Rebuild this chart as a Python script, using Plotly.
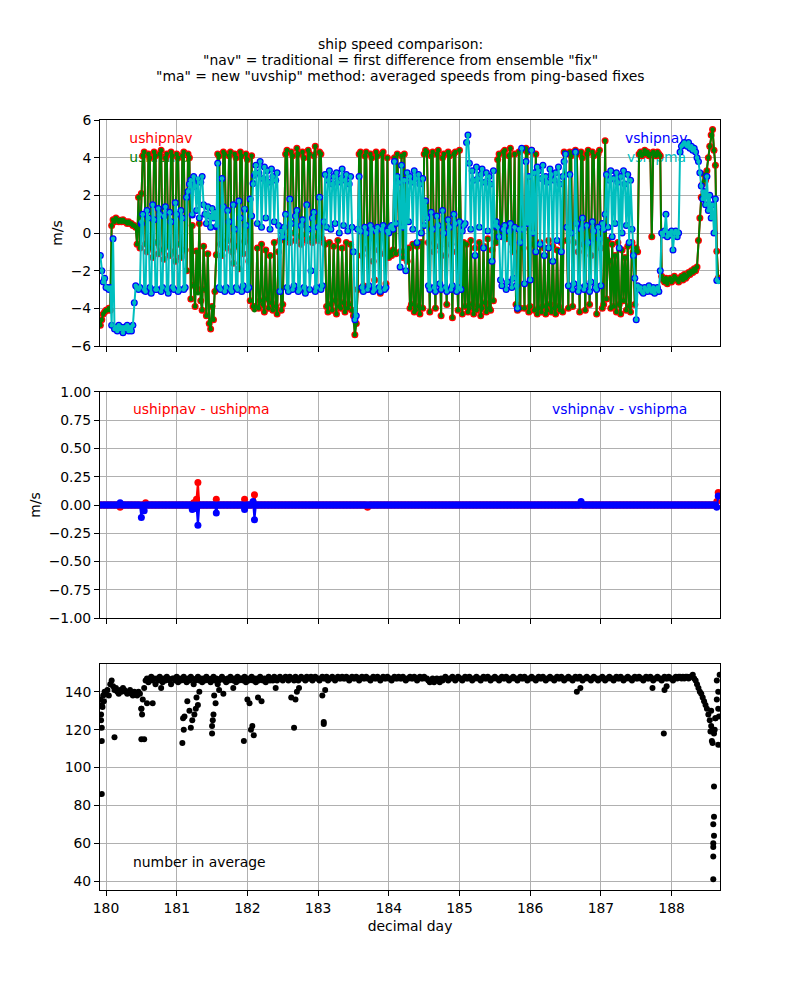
import numpy as np
import plotly.graph_objects as go
from plotly.subplots import make_subplots

# ---------------- data ----------------
day_start = 179.92      # first ensemble (decimal day)
day_step = 0.02         # ensemble spacing (days)

# ushipma (m/s), one value per ensemble
ushipma = [
    -4.9, -4.6, -4.3, -4.2, -4.1, -4.1, -4.0, -4.1,
    0.4, 0.7, 0.6, 0.8, 0.7, 0.6, 0.7, 0.6, 0.7, 0.6, 0.6, 0.5, 0.6, 0.5, 0.5, 0.4, 0.4,
    0.3, -0.6, 1.9, -0.8, 2.1,
    4.1, 4.3, -0.6, -1.0, 4.2, 4.0, -0.8, -1.3, 4.3, 4.1, -0.5, -1.1, 4.2, 4.4, -0.9, -1.4, 4.0,
    4.2, -0.7, -1.2, 4.3, 4.1, -1.0, -1.5, 4.2, 4.0, -0.6, -1.3, 4.1, 4.3, -0.9, -2.0, 4.2, 4.0,
    -3.5, 0.4, -2.8, -3.9, -1.0, -3.2, 0.5, -3.6, -4.1, -0.7, -3.0, -4.4, -1.1, -4.8, -5.1, -3.9, -4.6, -3.1, -1.2,
    4.2, 4.1, -0.6, -1.2, 4.3, 4.2, -0.8, -0.4, 4.1, 4.3, -1.0, -1.6, 4.2, 4.0, -0.7, -1.9, 4.3, 4.1,
    -1.1, -0.5, 4.2, 3.9, -1.5, -3.6, 4.1, -3.9, -4.1,
    -3.9, -0.8, -4.0, -3.6, -0.6, -3.8, -4.2, -0.9, -3.5, -4.0, -1.2, -3.7, -4.1, -0.5, -3.9, -4.3, -1.0, -0.4,
    -4.1, -3.8, -0.2, 4.2, 4.4, -0.3, -0.5, 4.3, 4.1, 0.0, -0.4, 4.5, 4.2, -0.2, -0.6, 4.3, 4.0,
    -0.1, -0.4, 4.4, 4.2, -0.3, -0.5, 4.1, 4.6, -0.2, -0.4, 4.3, 4.2, -0.3, -0.5,
    -0.6, -3.9, -4.2, -0.5, -3.8, -4.1, -0.7, -3.6, -4.3, -0.4, -3.9, -4.0, -0.8, -3.7, -4.2, -0.5,
    -4.0, -3.8, -0.6, -4.1, -4.4, -5.4, -4.8,
    -3.0, 4.2, 4.3, -1.2, -2.8, 4.1, 4.3, -0.8, -3.0, 4.2, 4.0, -1.5, -2.5, 4.3, 4.1, -0.9, -3.2,
    4.2, 4.3, -1.1, -2.7, 4.0, -1.3,
    -1.0, -1.2, -0.9, 4.0, -1.1, 4.2, 2.1, -1.0, 4.1, -1.3, 4.2, -1.0, -1.5, -0.8, -4.0, -3.8, -0.6,
    -4.2, -4.1, -0.7, -3.9, -4.3, -0.5, -4.0, 4.2, 4.4,
    4.3, -0.5, -4.2, 4.1, 4.3, -1.0, -4.0, 4.2, 4.4, -0.7, -4.4, 4.0, 4.2, -1.2, -3.8, 4.3, 4.1,
    -0.6, -4.5, 4.2, 4.3, -1.0, -4.1, 4.4, -0.8, -4.3, -0.5,
    -3.9, -0.6, -4.2, -4.0, -0.4, -3.8, -4.3, -0.8, -4.1, -3.9, -0.5, -4.4, -4.0, -0.7, -3.7, -4.2,
    -0.3, -4.0, -4.1, -0.9, -3.6, 0.3, -0.5,
    3.9, 4.2, 0.1, -0.2, 4.3, 4.4, -0.3, 0.2, 4.1, 4.5, -0.5, -1.0, 4.2, -3.8, -4.1, 4.3, -4.0,
    4.4, -0.8, -4.0, 4.5, 4.3, -4.2, -3.9, 4.4, -0.6, -4.1, 4.2, -4.3,
    -4.0, -0.5, -4.2, -3.9, -0.8, -4.3, -4.1, -0.4, -3.8, -4.2, -0.7, -4.0, -4.3, -0.9, -3.9, -4.1, -0.5, -4.2, 4.3,
    4.2, -0.4, -4.0, 4.3, 4.1, -3.9, -0.5, 4.4, 4.2, -1.0, -4.2, 4.3, 4.0, -0.6, -4.1, 4.2, 4.4,
    -3.8, -1.2, 4.3, 4.1, -0.3, -4.3, 4.2, 4.4, -0.8, -4.0,
    -3.8, 4.9, -3.5, -0.4, -1.5, -4.0, -0.6, -3.9, -1.2, -4.2, -0.5, -3.8, -4.3, -0.9, -3.6, -1.3,
    -4.1, -0.7, -3.9, -4.2, -0.5, -1.0, -3.8, -0.8,
    -1.0, 4.2, 4.3, 4.1, 4.2, 4.4, 4.2, 4.3, 4.1, 4.2, -0.2, 4.3, 4.2, 4.1, 4.3, 4.2, 4.1,
    -2.3, -2.5, -2.6, -2.4, -2.7, -2.5, -2.4, -2.6, -2.5, -2.3, -2.4, -2.5, -2.6, -2.4, -2.3, -2.5,
    -2.2, -2.4, -2.3, -2.1, -2.2, -2.0, -2.1, -1.9, -2.0,
    -1.8, -0.4, 0.8, 1.9, 2.6, 3.1, 2.8, 3.3, 4.0, 4.6, 5.2, 5.5, 4.4, 3.6, -1.0, -2.5,
]

# vshipma (m/s), one value per ensemble
vshipma = [
    -1.2, -2.0, -2.6, -2.4, -2.9, -2.9, -3.0, -2.9,
    -4.9, -0.3, -5.1, -5.0, -5.2, -4.9, -5.1, -5.0, -5.3, -5.0, -5.1, -4.9, -5.2, -5.0, -5.2, -4.9, -3.7,
    -2.8, -2.9, -3.0, -2.9, 0.6,
    1.0, -3.0, -3.1, 1.2, 0.8, -2.9, -3.2, 1.5, 0.7, -3.0, -3.0, 1.3, 1.0, -3.1, -2.9, 0.9, 1.4,
    -3.0, -3.2, 1.1, 0.6, -2.9, -3.0, 1.6, 1.0, -3.1, -3.0, 1.2, 0.8, -3.0, -2.9, 1.9, 2.2, 2.6,
    2.8, 1.0, 3.0, 2.5, 1.2, 2.9, 0.8, 2.7, 3.0, 1.5, 1.0, 0.5, 1.4, 0.9, 0.3, 1.3, 0.8, 1.1, 0.4,
    3.7, -2.9, -3.0, 2.9, 1.4, -3.1, -2.9, 1.2, 0.6, -3.0, -3.1, 1.5, 0.2, -2.9, -3.0, 1.7, 0.8,
    -3.1, -2.8, 1.3, 0.4, -3.0, -2.9, 1.8, 0.9, 2.6, 3.2,
    3.6, 0.5, 3.2, 3.8, 0.3, 2.9, 3.5, 0.8, 3.3, 2.7, 0.2, 3.4, 3.0, 0.6, 2.8, 3.2, 0.4, -3.1,
    0.1, -0.2, 0.3, 1.0, -2.9, -3.1, 1.8, 0.5, -3.0, -2.8, 0.9, 1.2, -3.1, -3.0, 0.4, 0.7, -2.9,
    -3.2, 1.5, 0.2, -3.0, -2.0, 0.8, 1.1, -3.1, -2.9, 0.3, 1.9, -3.0, -2.8, 0.6,
    3.1, 0.3, 2.8, 3.3, 0.2, 2.6, 3.0, 0.5, 3.2, 2.7, 0.0, 2.9, 3.4, 0.4, 2.8, 3.1, 0.1, 2.6,
    3.0, 0.3, -1.0, -4.6, -4.4,
    0.2, 3.0, 0.1, -2.9, -3.1, 0.3, 0.0, -3.0, -2.8, 0.4, 0.2, -3.1, -3.0, 0.1, 0.3, -2.9, -3.1,
    0.2, 0.4, -3.0, -2.9, 0.1, 0.0,
    0.3, 0.4, 0.2, 3.8, 0.5, 3.0, 2.7, -1.8, 3.6, 0.3, 2.8, -2.0, 3.2, 0.6, 3.0, 2.7, 0.2, 3.3,
    2.9, -0.5, 3.1, 2.6, 0.0, 2.9, 0.4, 1.7,
    0.8, -2.8, -3.0, 1.1, 0.2, -2.9, -3.1, 0.9, 0.4, -2.7, -3.0, 1.2, 0.0, -2.9, -3.1, 0.7, 0.3,
    -3.0, -2.8, 1.0, 0.5, -3.1, -2.9, 0.6, -3.0, 0.1, 0.4,
    0.5, 4.8, 5.2, 3.7, 0.2, 3.3, 2.8, -1.2, 3.5, 2.9, 0.3, 3.1, 3.4, -0.8, 2.7, 3.2, 0.1, 3.0,
    2.6, -1.5, 3.3, 0.4, 0.6,
    0.3, -0.2, -2.5, -2.8, 0.2, 0.4, -3.0, -2.6, 0.1, 0.5, -2.9, -2.4, 0.3, -2.8, -4.0, 0.2, -0.5,
    4.5, 0.2, -2.7, 3.8, 0.5, 3.0, -2.5, 4.4, 0.0, 3.2, -1.0, 3.5,
    3.3, -0.6, 2.9, 3.6, -1.2, 3.0, 2.7, -0.8, 3.4, 3.1, -1.5, 2.8, 3.2, -0.4, 3.5, 2.6, -1.0, 3.0, 3.8,
    4.2, 0.3, -2.8, 3.1, 0.0, -3.0, -2.7, 4.3, 0.5, -3.1, -2.9, 0.2, 0.8, -3.0, -2.8, 0.4, -0.5,
    -3.1, -2.6, 0.6, 0.1, -2.9, -3.0, 0.3, -0.3, -2.8, 0.5,
    0.2, 1.0, 3.1, 0.3, 2.8, 3.3, -0.2, 2.9, 0.5, 3.2, 2.7, -0.8, 3.0, 0.0, 3.3, 2.6, 0.4, 3.1,
    -0.5, 2.8, 0.2, -1.2, -2.4, -4.6,
    -2.8, -3.0, -2.9, -3.1, -3.2, -2.9, -3.0, -3.1, -2.8, -3.0, -3.1, -2.9, -3.2, -3.0, -2.9, -3.1, -2.0,
    0.0, -0.1, 0.1, 1.0, -0.2, 0.0, -0.1, 0.1, -0.9, 0.0, 0.1, -0.2, 0.0, 4.3, 4.6, 4.7, 4.8,
    4.7, 4.6, 4.8, 4.5, 4.6, 4.4, 4.5, 4.3,
    4.0, 3.8, 3.2, 2.5, 1.8, 2.2, 1.5, 3.0, 1.2, 2.0, 0.8, 1.5, 0.0, 1.8, -2.5, -2.6,
]

# nav - ma differences (nonzero spikes only; zero elsewhere)
udiff_day = [180.20, 180.56, 181.24, 181.28, 181.30, 181.56, 181.96, 182.10, 183.70, 188.64, 188.66]
udiff_val = [-0.02, 0.02, 0.02, 0.05, 0.20, 0.05, 0.05, 0.09, -0.02, 0.03, 0.11]
vdiff_day = [180.20, 180.50, 180.54, 181.22, 181.26, 181.30, 181.56, 181.96, 182.08, 182.10, 186.72, 188.64, 188.66]
vdiff_val = [0.02, -0.11, -0.05, -0.04, -0.03, -0.18, -0.07, -0.04, 0.03, -0.13, 0.03, -0.02, 0.08]

# number of pings in each average, one value per ensemble
n_average = [
    136, 133, 138, 140, 139, 141, 138, 144, 146, 143,
    141, 142, 140, 139, 141, 140, 142, 141, 140, 139,
    140, 141, 139, 138, 140, 139, 138, 140, 139, 131,
    136, 142,
    146, 147, 145, 147, 148, 146, 147, 144, 147, 146, 148, 147, 145, 147, 146, 148, 147, 146, 144, 147,
    147, 146, 148, 145, 147, 146, 147, 148, 146, 145, 147, 146, 148, 147, 144, 146, 147, 148, 146, 147,
    145, 147, 146, 148, 147, 146, 145, 147, 148, 146, 147, 144, 146, 147, 148, 147, 146, 145, 147, 146,
    148, 147, 146, 147, 145, 148, 146, 147, 147, 146, 148, 145, 147, 146, 147, 148, 146, 147, 145, 147,
    146, 148, 147, 146, 147, 145, 147, 148, 146, 147, 146, 148, 147, 146, 147, 148, 147, 146, 147, 148,
    147, 146, 148, 147, 147, 146, 148, 147, 146, 147, 148, 147, 147, 146, 148, 147, 147, 148, 146, 147,
    148, 147, 147, 146, 147, 148, 147, 147, 148, 146, 147, 147, 148, 147, 146, 147, 148, 147, 147, 148,
    147, 147, 148, 147, 146, 147, 148, 147, 147, 148, 147, 146, 147, 148, 147, 147, 148, 147, 147, 146,
    147, 148, 147, 147, 148, 147, 146, 147, 148, 147, 147, 148, 147, 147, 146, 147, 148, 147, 147, 148,
    147, 147, 148, 147, 146, 147, 147, 148, 147, 147, 148, 147, 146, 147, 148, 147, 147, 148, 147, 147,
    146, 145, 146, 147, 145, 146, 147, 146, 145, 147, 146, 147, 148, 147, 146, 147, 147, 148, 147, 146,
    147, 148, 147, 147, 146, 147, 148, 147, 147, 148, 147, 146, 147, 147, 148, 147, 147, 146, 147, 148,
    147, 147, 148, 147, 146, 147, 147, 148, 147, 147, 146, 147, 148, 147, 147, 148, 147, 146, 147, 147,
    148, 147, 147, 146, 147, 148, 147, 147, 148, 147, 146, 147, 147, 148, 147, 147, 146, 147, 148, 147,
    147, 148, 147, 146, 147, 147, 148, 147, 147, 146, 147, 148, 147, 147, 148, 147, 146, 147, 147, 148,
    147, 147, 146, 147, 148, 147, 147, 148, 147, 146, 147, 147, 148, 147, 147, 146, 147, 148, 147, 147,
    146, 147, 147, 148, 147, 146, 147, 147, 148, 147, 147, 146, 147, 148, 147, 147, 148, 147, 146, 147,
    147, 148, 147, 147, 146, 147, 148, 147, 147, 148, 147, 147, 146, 147, 148, 147, 147, 148, 147, 146,
    147, 147, 148, 147, 147, 146, 147, 148, 147, 147, 148, 147, 147, 146, 147, 148, 147, 148, 148, 147,
    148, 147, 148, 148, 147, 148, 148, 149,
    147, 146, 144, 142, 140, 139, 137, 135, 133, 131, 128, 125, 122, 120, 118, 126, 146, 140,
]

# additional ensembles with fewer pings (scattered points below the main band)
n_extra_day = [179.93, 179.93, 179.94, 179.94, 179.94, 179.95, 179.97, 180.12, 180.50, 180.51,
               180.50, 180.54, 180.58, 180.66, 180.78, 181.08, 181.10, 181.09, 181.11, 181.15,
               181.18, 181.20, 181.22, 181.25, 181.27, 181.30, 181.28, 181.32, 181.50, 181.50,
               181.51, 181.52, 181.53, 181.55, 181.60, 181.66, 181.80, 181.95, 182.00, 182.03,
               182.05, 182.07, 182.09, 182.15, 182.20, 182.40, 182.62, 182.66, 182.68, 182.70,
               182.73, 183.08, 183.08, 183.06, 183.10, 186.66, 186.71, 187.73, 187.89, 187.90,
               187.93, 188.55, 188.57, 188.58, 188.60, 188.60, 188.59, 188.60, 188.59, 188.59,
               188.59, 188.59, 188.61, 188.56, 188.62, 188.64, 188.66, 188.67, 188.66, 188.68]
n_extra_val = [128, 125, 121, 114, 86, 132, 135, 116, 131, 128,
               115, 115, 134, 134, 142, 113, 120, 126, 127, 135,
               130, 121, 125, 128, 131, 133, 137, 140, 122, 118,
               125, 128, 138, 134, 141, 139, 142, 114, 136, 134,
               120, 122, 117, 137, 135, 142, 137, 121, 136, 140,
               142, 124, 123, 138, 141, 140, 142, 142, 118, 141,
               143, 119, 114, 113, 90, 74, 70, 64, 60, 58,
               53, 41, 120, 130, 126, 136, 131, 127, 112, 149]

# ---------------- derived series ----------------
n = len(ushipma)
day = day_start + day_step * np.arange(n)
u_ma = np.array(ushipma)
v_ma = np.array(vshipma)
udiff = np.zeros(n)
vdiff = np.zeros(n)
for d, val in zip(udiff_day, udiff_val):
    udiff[int(round((d - day_start) / day_step))] = val
for d, val in zip(vdiff_day, vdiff_val):
    vdiff[int(round((d - day_start) / day_step))] = val
u_nav = u_ma + udiff
v_nav = v_ma + vdiff

day_n = day_start + day_step * np.arange(len(n_average))
cnt_day = np.concatenate([day_n, np.array(n_extra_day)])
cnt_val = np.concatenate([np.array(n_average, dtype=float), np.array(n_extra_val, dtype=float)])

# ---------------- figure ----------------
FONT = "DejaVu Sans"
FS = 13.9
RED, GREEN, BLUE, CYAN = "#ff0000", "#008000", "#0000ff", "#00bfbf"

fig = make_subplots(rows=3, cols=1, shared_xaxes=True)

# labels of the top panel sit underneath the data (as in the reference)
for txt, col, xx, yy in [("ushipnav", RED, 180.33, 4.95), ("ushipma", GREEN, 180.33, 3.97),
                         ("vshipnav", BLUE, 187.34, 4.95), ("vshipma", CYAN, 187.37, 3.97)]:
    fig.add_trace(go.Scatter(x=[xx], y=[yy], mode="text", text=[txt], textposition="middle right",
                             textfont=dict(family=FONT, size=FS, color=col), showlegend=False,
                             hoverinfo="skip"), row=1, col=1)

fig.add_trace(go.Scatter(x=day, y=u_nav, mode="lines+markers", line=dict(color=RED, width=2),
                         marker=dict(color=RED, size=7), name="ushipnav", showlegend=False), row=1, col=1)
fig.add_trace(go.Scatter(x=day, y=u_ma, mode="lines+markers", line=dict(color=GREEN, width=2),
                         marker=dict(color=GREEN, size=4.5), name="ushipma", showlegend=False), row=1, col=1)
fig.add_trace(go.Scatter(x=day, y=v_nav, mode="markers", marker=dict(color=BLUE, size=7),
                         name="vshipnav", showlegend=False), row=1, col=1)
fig.add_trace(go.Scatter(x=day, y=v_ma, mode="lines+markers", line=dict(color=CYAN, width=2),
                         marker=dict(color=CYAN, size=4.5), name="vshipma", showlegend=False), row=1, col=1)

fig.add_trace(go.Scatter(x=day, y=u_nav - u_ma, mode="lines+markers", line=dict(color=RED, width=2),
                         marker=dict(color=RED, size=7), showlegend=False), row=2, col=1)
fig.add_trace(go.Scatter(x=day, y=v_nav - v_ma, mode="lines+markers", line=dict(color=BLUE, width=2),
                         marker=dict(color=BLUE, size=7), showlegend=False), row=2, col=1)

fig.add_trace(go.Scatter(x=cnt_day, y=cnt_val, mode="markers", marker=dict(color="black", size=6),
                         showlegend=False), row=3, col=1)

axis_common = dict(showline=True, linecolor="black", linewidth=1, mirror=True,
                   ticks="outside", ticklen=5, tickwidth=1, tickcolor="black",
                   showgrid=True, gridcolor="#b0b0b0", gridwidth=0.8, zeroline=False,
                   tickfont=dict(family=FONT, size=FS, color="black"))

xr = [179.915, 188.685]
# page body adds an 8px offset, margins compensate so the plot area sits at 100..720 x 120..890
fig.update_layout(
    width=800, height=1000, plot_bgcolor="white", paper_bgcolor="white",
    margin=dict(l=92, r=88, t=112, b=118),
    font=dict(family=FONT, size=FS, color="black"),
    xaxis=dict(domain=[0, 1], range=xr, tick0=180, dtick=1, showticklabels=False, **axis_common),
    xaxis2=dict(domain=[0, 1], range=xr, tick0=180, dtick=1, showticklabels=False, **axis_common),
    xaxis3=dict(domain=[0, 1], range=xr, tick0=180, dtick=1, showticklabels=True,
                title=dict(text="decimal day", font=dict(family=FONT, size=FS), standoff=6), **axis_common),
    yaxis=dict(domain=[0.7065, 1.0], range=[-6, 6], tickvals=[-6, -4, -2, 0, 2, 4, 6],
               title=dict(text="m/s", font=dict(family=FONT, size=FS), standoff=4), **axis_common),
    yaxis2=dict(domain=[0.3532, 0.6468], range=[-1, 1], tick0=-1, dtick=0.25, tickformat=".2f",
                title=dict(text="m/s", font=dict(family=FONT, size=FS), standoff=4), **axis_common),
    yaxis3=dict(domain=[0, 0.2935], range=[35.3, 154.7], tickvals=[40, 60, 80, 100, 120, 140], **axis_common),
)

# title (three centred lines)
for k, line in enumerate(['ship speed comparison:',
                          '"nav" = traditional = first difference from ensemble "fix"',
                          '"ma" = new "uvship" method: averaged speeds from ping-based fixes']):
    fig.add_annotation(text=line, xref="paper", yref="paper", x=(400 - 100) / 620,
                       y=1 + (120 - (44 + 16 * k)) / 770, xanchor="center", yanchor="middle",
                       showarrow=False, font=dict(family=FONT, size=FS, color="black"))

fig.add_annotation(text="ushipnav - ushipma", xref="x2 domain", yref="y2 domain", x=0.05, y=0.925,
                   xanchor="left", yanchor="middle", showarrow=False, font=dict(family=FONT, size=FS, color=RED))
fig.add_annotation(text="vshipnav - vshipma", xref="x2 domain", yref="y2 domain", x=0.95, y=0.925,
                   xanchor="right", yanchor="middle", showarrow=False, font=dict(family=FONT, size=FS, color=BLUE))
fig.add_annotation(text="number in average", xref="x3 domain", yref="y3 domain", x=0.05, y=0.124,
                   xanchor="left", yanchor="middle", showarrow=False, font=dict(family=FONT, size=FS, color="black"))

fig.write_html("out.html")
